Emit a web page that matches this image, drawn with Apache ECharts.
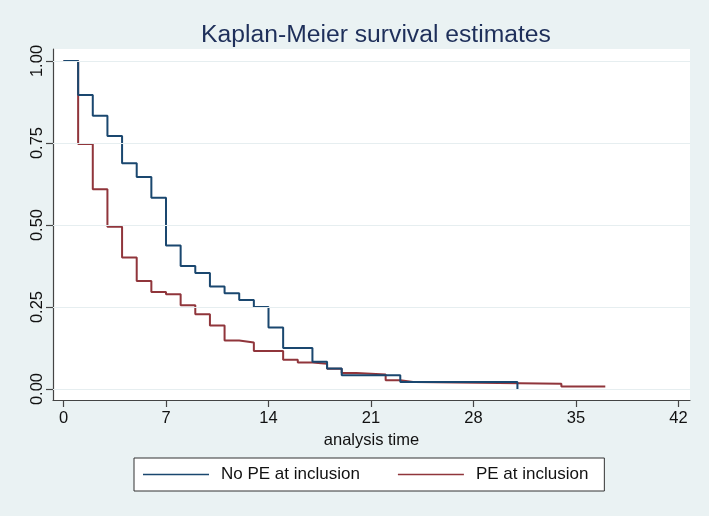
<!DOCTYPE html>
<html>
<head>
<meta charset="utf-8">
<script src="https://cdn.jsdelivr.net/npm/echarts@6/dist/echarts.min.js"></script>
<style>
html,body{margin:0;padding:0;background:#eaf2f3;}
#chart{width:709px;height:516px;}
</style>
</head>
<body>
<div id="chart"></div>
<script>
// Kaplan-Meier step points [time, survival]
const noPE_time = [0, 1, 2, 3, 4, 5, 6, 7, 8, 9, 10, 11, 12, 13, 14, 15, 17, 18, 19, 23, 31];
const noPE_surv = [1, 0.896, 0.833, 0.771, 0.688, 0.646, 0.583, 0.4375, 0.375, 0.354, 0.3125, 0.292, 0.271, 0.25, 0.1875, 0.125, 0.083, 0.0625, 0.042, 0.021, 0];

const pe_time = [0, 1, 2, 3, 4, 5, 6, 7, 8, 9, 10, 11, 12, 13, 15, 16, 17, 18, 19, 20, 22, 23, 24, 34, 37];
const pe_surv = [1, 0.747, 0.609, 0.495, 0.401, 0.329, 0.296, 0.289, 0.255, 0.228, 0.194, 0.148, 0.142, 0.116, 0.089, 0.081, 0.077, 0.062, 0.049, 0.044, 0.027, 0.021, 0.016, 0.008, 0.008];

const xTicks = [0, 7, 14, 21, 28, 35, 42];
const yTicks = [0, 0.25, 0.5, 0.75, 1];

const seriesNames = ['No PE at inclusion', 'PE at inclusion'];
const title = 'Kaplan-Meier survival estimates';
const xName = 'analysis time';

const FONT = '"Liberation Sans", Arial, Helvetica, sans-serif';

const zip = (a, b) => a.map((v, i) => [v, b[i]]);

const chart = echarts.init(document.getElementById('chart'), null, {renderer: 'canvas'});
chart.setOption({
  animation: false,
  backgroundColor: '#eaf2f3',
  textStyle: {fontFamily: FONT},
  title: {
    text: title,
    left: 371,
    textAlign: 'center',
    top: 18,
    textStyle: {fontFamily: FONT, fontSize: 24.7, fontWeight: 'normal', color: '#1e2f5a'}
  },
  grid: {
    left: 53, right: 19, top: 49, bottom: 116,
    show: true, backgroundColor: '#ffffff', borderWidth: 0,
    containLabel: false, outerBoundsMode: 'none'
  },
  legend: {
    data: seriesNames,
    left: 134, top: 458,
    orient: 'horizontal',
    backgroundColor: '#ffffff',
    borderColor: '#333333',
    borderWidth: 1,
    borderRadius: 0,
    padding: [8, 16, 8, 9],
    itemGap: 38,
    itemWidth: 66,
    itemHeight: 1.6,
    icon: 'rect',
    textStyle: {fontFamily: FONT, fontSize: 17, color: '#111', padding: [0, 0, 0, 7]}
  },
  xAxis: {
    type: 'value',
    min: -0.717, max: 42.785,
    name: xName,
    nameLocation: 'middle',
    nameGap: 31,
    nameTextStyle: {fontFamily: FONT, fontSize: 16.5, color: '#111'},
    axisLine: {show: true, onZero: false, lineStyle: {color: '#444', width: 1.2}},
    axisTick: {show: true, length: 7, customValues: xTicks, lineStyle: {color: '#444', width: 1.2}},
    axisLabel: {customValues: xTicks, margin: 10, fontFamily: FONT, fontSize: 16.5, color: '#111'},
    splitLine: {show: false}
  },
  yAxis: {
    type: 'value',
    min: -0.0335, max: 1.0366,
    axisLine: {show: true, onZero: false, lineStyle: {color: '#444', width: 1.2}},
    axisTick: {show: true, length: 7, customValues: yTicks, lineStyle: {color: '#444', width: 1.2}},
    axisLabel: {
      customValues: yTicks, rotate: 90, margin: 7,
      fontFamily: FONT, fontSize: 16.5, color: '#111',
      formatter: v => v.toFixed(2)
    },
    splitLine: {show: false}
  },
  series: [
    {
      name: '__grid',
      type: 'line',
      data: [],
      silent: true,
      z: 1,
      markLine: {
        silent: true,
        symbol: ['none', 'none'],
        label: {show: false},
        lineStyle: {color: '#e6eef0', width: 1.2, type: 'solid'},
        data: yTicks.map(v => ({yAxis: v}))
      }
    },
    {
      name: seriesNames[0],
      type: 'line',
      step: 'end',
      data: zip(noPE_time, noPE_surv),
      showSymbol: false,
      symbol: 'none',
      z: 3,
      lineStyle: {color: '#1a476f', width: 2},
      itemStyle: {color: '#1a476f'}
    },
    {
      name: seriesNames[1],
      type: 'line',
      step: 'end',
      data: zip(pe_time, pe_surv),
      showSymbol: false,
      symbol: 'none',
      z: 2,
      lineStyle: {color: '#90353b', width: 2},
      itemStyle: {color: '#90353b'}
    }
  ]
});
</script>
</body>
</html>
